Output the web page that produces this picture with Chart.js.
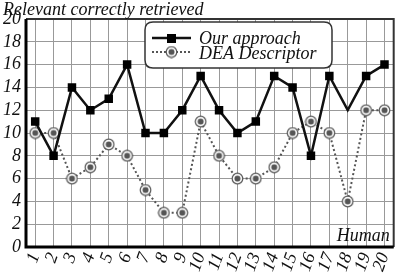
<!DOCTYPE html>
<html><head><meta charset="utf-8">
<script src="https://cdn.jsdelivr.net/npm/chart.js@4"></script>
<style>html,body{margin:0;padding:0;background:#fff;}#wrap{width:408px;height:273px;}</style>
</head><body><div id="wrap"><canvas id="c" width="408" height="273"></canvas></div>
<script>
const categories = ['1','2','3','4','5','6','7','8','9','10','11','12','13','14','15','16','17','18','19','20'];
const ourApproach = [11,8,14,12,13,16,10,10,12,15,12,10,11,15,14,8,15,12,15,16];
const deaDescriptor = [10,10,6,7,9,8,5,3,3,11,8,6,6,7,10,11,10,4,12,12];
const yTicks = [0,2,4,6,8,10,12,14,16,18,20];
const titleText = 'Relevant correctly retrieved';
const xTitle = 'Human';
const FONT = '"Liberation Serif", "Times New Roman", serif';

function deaMarker(){
  const c = document.createElement('canvas'); c.width = 13; c.height = 13;
  const g = c.getContext('2d');
  g.beginPath(); g.arc(6.5,6.5,5.3,0,Math.PI*2); g.fillStyle='#fff'; g.fill();
  g.lineWidth=1.2; g.strokeStyle='#555'; g.stroke();
  g.beginPath(); g.arc(6.5,6.5,3,0,Math.PI*2); g.fillStyle='#555'; g.fill();
  return c;
}
const deaImg = deaMarker();

const framePlugin = {
  id:'frame',
  afterDraw(chart){
    const {ctx, chartArea:a} = chart;
    ctx.save();
    ctx.strokeStyle='#333'; ctx.lineWidth=2;
    ctx.beginPath(); ctx.moveTo(a.left,a.top); ctx.lineTo(a.right,a.top); ctx.lineTo(a.right,a.bottom); ctx.stroke();
    ctx.strokeStyle='#000'; ctx.lineWidth=3;
    ctx.beginPath(); ctx.moveTo(a.left,a.top); ctx.lineTo(a.left,a.bottom); ctx.lineTo(a.right,a.bottom); ctx.stroke();
    ctx.fillStyle='#111'; ctx.font='italic 18px '+FONT; ctx.textAlign='left'; ctx.textBaseline='alphabetic';
    ctx.fillText(titleText, 3, 15);
    ctx.textAlign='right';
    ctx.fillText(xTitle, a.right-4, a.bottom-6);
    const lx=145, ly=22, lw=187, lh=46, r=8;
    ctx.beginPath();
    ctx.moveTo(lx+r,ly); ctx.lineTo(lx+lw-r,ly); ctx.quadraticCurveTo(lx+lw,ly,lx+lw,ly+r);
    ctx.lineTo(lx+lw,ly+lh-r); ctx.quadraticCurveTo(lx+lw,ly+lh,lx+lw-r,ly+lh);
    ctx.lineTo(lx+r,ly+lh); ctx.quadraticCurveTo(lx,ly+lh,lx,ly+lh-r);
    ctx.lineTo(lx,ly+r); ctx.quadraticCurveTo(lx,ly,lx+r,ly); ctx.closePath();
    ctx.fillStyle='#fff'; ctx.fill(); ctx.strokeStyle='#333'; ctx.lineWidth=1.5; ctx.stroke();
    const ds = chart.data.datasets;
    ctx.strokeStyle='#111'; ctx.lineWidth=2.5; ctx.setLineDash([]);
    ctx.beginPath(); ctx.moveTo(152,38); ctx.lineTo(191,38); ctx.stroke();
    ctx.fillStyle='#000'; ctx.fillRect(167,34,9,9);
    ctx.strokeStyle='#555'; ctx.lineWidth=2; ctx.setLineDash([2,2]);
    ctx.beginPath(); ctx.moveTo(152,52); ctx.lineTo(191,52); ctx.stroke();
    ctx.setLineDash([]);
    ctx.drawImage(deaImg, 165, 45.5);
    ctx.fillStyle='#111'; ctx.font='italic 18px '+FONT; ctx.textAlign='left';
    ctx.fillText(ds[0].label, 199, 44);
    ctx.fillText(ds[1].label, 199, 59);
    ctx.restore();
  }
};

function draw(){
new Chart(document.getElementById('c'), {
  type:'line',
  data:{
    labels: categories,
    datasets:[
      {label:'Our approach', data: ourApproach, borderColor:'#111', borderWidth:2.5,
       pointStyle:'rect', pointRadius: ourApproach.map((v,i)=> i===17?0:6), backgroundColor:'#000',
       pointBackgroundColor:'#000', pointBorderColor:'#000', pointBorderWidth:0, tension:0},
      {label:'DEA Descriptor', data: deaDescriptor, borderColor:'#555', borderWidth:2, borderDash:[2,2.5],
       pointStyle: deaImg, pointRadius:6, tension:0}
    ]
  },
  options:{
    responsive:false, animation:false, devicePixelRatio:1,
    layout:{padding:{top:19,right:3,left:0,bottom:0}},
    plugins:{legend:{display:false}, tooltip:{enabled:false}, title:{display:false}},
    scales:{
      x:{type:'category', offset:true,
         grid:{offset:false, color:'#999', lineWidth:1, drawTicks:false},
         border:{display:false},
         ticks:{autoSkip:false, minRotation:70, maxRotation:70, padding:3, color:'#111', font:{family:FONT, size:18, style:'italic'}},
         afterFit(s){ s.height = 26; }},
      y:{min:0, max:20,
         afterBuildTicks(s){ s.ticks = yTicks.map(v=>({value:v})); },
         grid:{color:'#999', lineWidth:1, drawTicks:false},
         border:{display:false},
         ticks:{autoSkip:false, padding:5, color:'#111', font:{family:FONT, size:18, style:'italic'}},
         afterFit(s){ s.width = 26; }}
    }
  },
  plugins:[framePlugin]
});
}
Promise.all([
  document.fonts.load('italic 18px "Liberation Serif"'),
  document.fonts.load('18px "Liberation Serif"')
]).then(draw, draw);
</script></body></html>
